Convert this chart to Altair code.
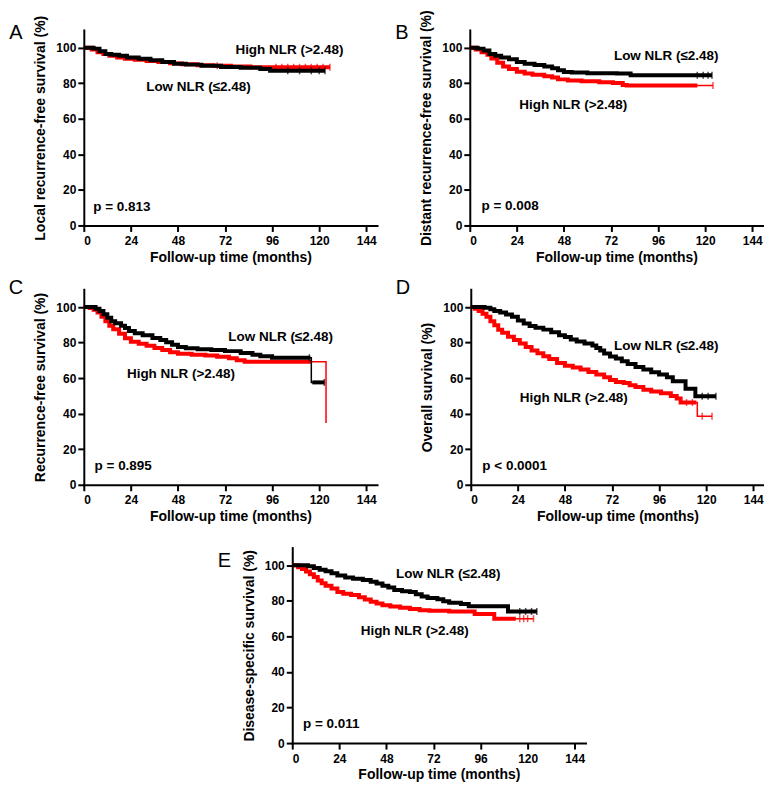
import altair as alt
import pandas as pd

FONT = "Liberation Sans"
RED = "#ff0000"
BLACK = "#000000"
X_TICKS = [0, 24, 48, 72, 96, 120, 144]
Y_TICKS = [0, 20, 40, 60, 80, 100]
X_TITLE = "Follow-up time (months)"
LOW_LABEL = "Low NLR (≤2.48)"
HIGH_LABEL = "High NLR (>2.48)"

# ---------------- Panel A ----------------
A_TITLE = "Local recurrence-free survival (%)"
A_P = "p = 0.813"
A_LOW_T = [0, 5, 8, 11, 14, 18, 22, 28, 34, 40, 46, 52, 60, 70, 80, 90, 95, 123]
A_LOW_S = [100, 99.5, 98, 96.5, 96, 95.5, 94.5, 93.8, 93, 92, 91, 90.5, 89.8, 89.2, 88.8, 88, 87, 87]
A_LOW_THICK = [(0, 123)]
A_LOW_CENSOR = [104, 110, 116, 120, 123]
A_HIGH_T = [0, 4, 7, 10, 13, 17, 21, 26, 32, 38, 44, 50, 58, 66, 75, 85, 125.5]
A_HIGH_S = [100, 99, 97.5, 96.5, 95.5, 94.5, 93.8, 93.2, 92.6, 92, 91.2, 90.7, 90.2, 89.8, 89.4, 89, 89]
A_HIGH_THICK = [(0, 125.5)]
A_HIGH_CENSOR = [68, 98, 101, 104, 107, 110, 113, 116, 119, 122, 125.5]
A_TEXT_T = [31.8, 77.3, 4.8]
A_TEXT_S = [78.1, 98.9, 10.4]

# ---------------- Panel B ----------------
B_TITLE = "Distant recurrence-free survival (%)"
B_P = "p = 0.008"
B_LOW_T = [0, 4, 7, 10, 13, 16, 20, 24, 28, 33, 38, 42, 45, 48, 52, 60, 75, 82, 123.5]
B_LOW_S = [100, 99.5, 98.5, 96.5, 95.5, 94.5, 93.5, 92, 91, 90.3, 89.5, 88.5, 87.3, 86.3, 86, 85.7, 85.5, 84.5, 84.5]
B_LOW_THICK = [(0, 123.5)]
B_LOW_CENSOR = [116, 119, 121.5, 123.5]
B_HIGH_T = [0, 3, 6, 9, 11, 14, 17, 20, 24, 28, 32, 38, 42, 45, 50, 57, 66, 73, 78, 80, 124]
B_HIGH_S = [100, 99, 97.5, 96, 94, 91.5, 89.5, 88, 86.5, 85.5, 84.8, 84, 83.2, 82.2, 81.5, 81.1, 80.6, 80.1, 79, 78.7, 78.7]
B_HIGH_THICK = [(0, 116)]
B_HIGH_CENSOR = [124]
B_TEXT_T = [73.5, 25.2, 6.0]
B_TEXT_S = [95.4, 68.0, 10.7]

# ---------------- Panel C ----------------
C_TITLE = "Recurrence-free survival (%)"
C_P = "p = 0.895"
C_LOW_T = [0, 4, 6, 8, 10, 12, 14, 16, 19, 21, 23, 26, 30, 35, 39, 42, 45, 48, 52, 58, 65, 72, 80, 86, 90, 96, 116, 122.6]
C_LOW_S = [100, 100, 99, 97.8, 96, 94, 92, 90.9, 89.5, 88.2, 86.5, 85.2, 84.2, 82.6, 81.5, 80.2, 78.8, 77.5, 76.8, 76.2, 75.8, 75.2, 74.2, 73.2, 72.3, 71.5, 57.6, 57.6]
C_LOW_THICK = [(0, 115.5), (116.5, 122.6)]
C_LOW_CENSOR = [115, 122.6]
C_HIGH_T = [0, 3, 5, 7, 9, 11, 13, 15, 18, 21, 24, 28, 32, 36, 40, 44, 48, 55, 62, 68, 74, 78, 82, 123.5]
C_HIGH_S = [100, 99.5, 98.5, 97, 94.5, 92, 89.5, 87.5, 85, 82.5, 80.5, 79.3, 78.2, 77, 75.8, 74.6, 73.7, 73.2, 72.8, 72, 71.2, 70, 69.2, 34.8]
C_HIGH_THICK = [(0, 116)]
C_HIGH_CENSOR = []
C_TEXT_T = [73.7, 22.0, 5.5]
C_TEXT_S = [83.3, 62.6, 10.7]

# ---------------- Panel D ----------------
D_TITLE = "Overall survival (%)"
D_P = "p < 0.0001"
D_LOW_T = [0, 7, 10, 12, 15, 18, 21, 24, 27, 30, 33, 37, 41, 45, 48, 51, 54, 58, 62, 64, 66, 68, 71, 74, 77, 80, 84, 88, 92, 96, 100, 103, 109.5, 114.5, 125]
D_LOW_S = [100, 99.6, 98.8, 97.8, 97, 95.8, 94.5, 92.5, 90.8, 89.4, 88.3, 87.3, 85.8, 84.2, 83.2, 81.8, 80.6, 79.5, 78.4, 77, 75.5, 73.8, 72.2, 71, 69.5, 68, 66.3, 64.8, 63.3, 62, 60.5, 58.3, 54, 49.8, 49.8]
D_LOW_THICK = [(0, 125)]
D_LOW_CENSOR = [118, 121, 125]
D_HIGH_T = [0, 2, 4, 6, 8, 10, 12, 14, 16, 19, 22, 25, 28, 31, 34, 37, 40, 44, 48, 52, 56, 60, 64, 68, 71, 74, 78, 81, 84, 88, 92, 97, 102, 105, 107, 115.5, 123]
D_HIGH_S = [100, 99, 97.8, 96.2, 94.5, 92, 89.8, 87.2, 85.5, 83.3, 81.5, 79.5, 77.5, 75.5, 74, 72.3, 70.8, 68.5, 67, 66, 64.8, 63.5, 62, 60.5, 59, 57.8, 57.2, 56, 55, 53.5, 52.5, 51.5, 50, 48.5, 46.3, 38.5, 38.5]
D_HIGH_THICK = [(0, 115)]
D_HIGH_CENSOR = [110, 113, 118, 123]
D_TEXT_T = [73.0, 25.0, 5.9]
D_TEXT_S = [77.8, 49.0, 10.7]

# ---------------- Panel E ----------------
E_TITLE = "Disease-specific survival (%)"
E_P = "p = 0.011"
E_LOW_T = [0, 6, 8, 11, 14, 17, 20, 23, 27, 31, 36, 40, 43, 46, 49, 52, 56, 60, 63, 66, 69, 74, 77, 80, 86, 90, 110, 124.7]
E_LOW_S = [100, 100, 99.5, 98.5, 97.5, 96.7, 95.5, 94.3, 93.2, 92.5, 91.7, 90.8, 89.8, 88.5, 87.5, 86.2, 85.5, 85, 83.8, 82.5, 81.6, 80.9, 79.8, 79, 78.2, 77, 74.1, 74.1]
E_LOW_THICK = [(0, 124.7)]
E_LOW_CENSOR = [116, 119, 122, 124.7]
E_HIGH_T = [0, 3, 5, 7, 9, 11, 13, 15, 17, 20, 23, 26, 30, 34, 37, 40, 43, 46, 50, 55, 60, 65, 70, 80, 93, 103, 123]
E_HIGH_S = [100, 99, 98, 96.5, 95, 93.5, 91.5, 90, 88.5, 87, 85, 84, 83.3, 82, 80.8, 79.5, 78.5, 77.5, 76.8, 76.2, 75.5, 74.8, 74.4, 74.1, 72.6, 70, 70]
E_HIGH_THICK = [(0, 114)]
E_HIGH_CENSOR = [116, 118, 120, 123]
E_TEXT_T = [52.9, 34.9, 5.5]
E_TEXT_S = [95.4, 63.0, 10.7]

W = 294
H = 196


def step_at(ts, ss, x):
    val = ss[0]
    for t, s in zip(ts, ss):
        if t <= x:
            val = s
    return val


def curve_layers(ts, ss, thick, censor, color, x_enc, y_enc):
    thin_df = pd.DataFrame({"t": ts, "s": ss})
    rows = []
    for k, (a, b) in enumerate(thick):
        rows.append({"t": a, "s": step_at(ts, ss, a), "seg": k})
        for t, s in zip(ts, ss):
            if a < t < b:
                rows.append({"t": t, "s": s, "seg": k})
        rows.append({"t": b, "s": step_at(ts, ss, b), "seg": k})
    thick_df = pd.DataFrame(rows)
    layers = [
        alt.Chart(thin_df).mark_line(interpolate="step-after", strokeWidth=1.5, color=color)
        .encode(x=x_enc, y=y_enc),
        alt.Chart(thick_df).mark_line(interpolate="step-after", strokeWidth=4, color=color)
        .encode(x=x_enc, y=y_enc, detail="seg:N"),
    ]
    if censor:
        cdf = pd.DataFrame({"t": censor, "s": [step_at(ts, ss, c) for c in censor]})
        layers.append(
            alt.Chart(cdf).mark_tick(orient="vertical", size=7, thickness=1.5, color=color)
            .encode(x=x_enc, y=y_enc)
        )
    return layers


def panel(letter, letter_dy, ytitle, ptext, low, high, text_t, text_s):
    x_enc = alt.X("t:Q", scale=alt.Scale(domain=[0, 149.5], nice=False, zero=False),
                  axis=alt.Axis(values=X_TICKS, title=X_TITLE, labelPadding=4, titlePadding=4))
    y_enc = alt.Y("s:Q", scale=alt.Scale(domain=[0, 110], nice=False, zero=False),
                  axis=alt.Axis(values=Y_TICKS, title=ytitle, labelPadding=2, titlePadding=8))
    layers = []
    layers += curve_layers(*high, RED, x_enc, y_enc)
    layers += curve_layers(*low, BLACK, x_enc, y_enc)
    tdf = pd.DataFrame({"t": text_t, "s": text_s, "label": [LOW_LABEL, HIGH_LABEL, ptext]})
    layers.append(
        alt.Chart(tdf).mark_text(align="left", baseline="middle", font=FONT, fontSize=13.5,
                                 fontWeight="bold", color="black")
        .encode(x=x_enc, y=y_enc, text="label:N")
    )
    ldf = pd.DataFrame({"l": [letter]})
    layers.append(
        alt.Chart(ldf).mark_text(align="center", baseline="middle", font=FONT, fontSize=20,
                                 color="black")
        .encode(x=alt.value(-68), y=alt.value(letter_dy), text="l:N")
    )
    return alt.layer(*layers).properties(width=W, height=H)


pA = panel("A", 3, A_TITLE, A_P,
           (A_LOW_T, A_LOW_S, A_LOW_THICK, A_LOW_CENSOR),
           (A_HIGH_T, A_HIGH_S, A_HIGH_THICK, A_HIGH_CENSOR), A_TEXT_T, A_TEXT_S)
pB = panel("B", 3, B_TITLE, B_P,
           (B_LOW_T, B_LOW_S, B_LOW_THICK, B_LOW_CENSOR),
           (B_HIGH_T, B_HIGH_S, B_HIGH_THICK, B_HIGH_CENSOR), B_TEXT_T, B_TEXT_S)
pC = panel("C", -1, C_TITLE, C_P,
           (C_LOW_T, C_LOW_S, C_LOW_THICK, C_LOW_CENSOR),
           (C_HIGH_T, C_HIGH_S, C_HIGH_THICK, C_HIGH_CENSOR), C_TEXT_T, C_TEXT_S)
pD = panel("D", -1, D_TITLE, D_P,
           (D_LOW_T, D_LOW_S, D_LOW_THICK, D_LOW_CENSOR),
           (D_HIGH_T, D_HIGH_S, D_HIGH_THICK, D_HIGH_CENSOR), D_TEXT_T, D_TEXT_S)
pE = panel("E", 13, E_TITLE, E_P,
           (E_LOW_T, E_LOW_S, E_LOW_THICK, E_LOW_CENSOR),
           (E_HIGH_T, E_HIGH_S, E_HIGH_THICK, E_HIGH_CENSOR), E_TEXT_T, E_TEXT_S)


def spacer(w):
    return (
        alt.Chart(pd.DataFrame({"v": [0]}))
        .mark_rule(opacity=0)
        .encode(x=alt.value(0), y=alt.value(0), y2=alt.value(1))
        .properties(width=w, height=10)
    )


top = alt.vconcat(
    alt.hconcat(pA, pB, spacing=18),
    alt.hconcat(pC, pD, spacing=18),
    spacing=14,
)
bottom = alt.hconcat(spacer(134), pE, spacing=0)

chart = (
    alt.vconcat(top, bottom, spacing=24)
    .properties(padding=0)
    .configure_axis(
        domainColor="black", domainWidth=2, domainCap="square",
        tickColor="black", tickWidth=2, tickSize=6, grid=False,
        labelFont=FONT, labelFontSize=12, labelFontWeight="bold", labelColor="black",
        titleFont=FONT, titleFontSize=14, titleFontWeight="bold", titleColor="black",
    )
    .configure_view(stroke=None)
)

chart.save("out.html", embed_options={"renderer": "svg", "actions": False})
